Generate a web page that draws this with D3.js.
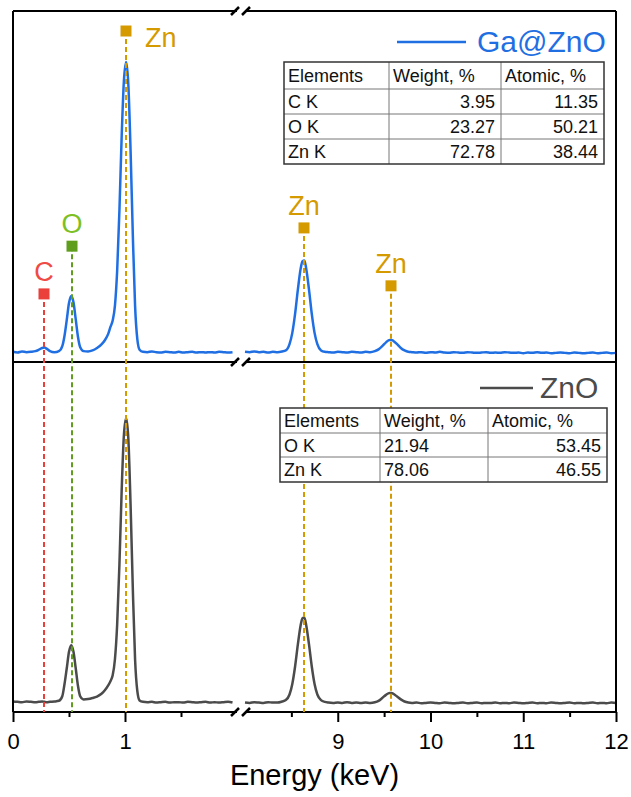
<!DOCTYPE html>
<html>
<head>
<meta charset="utf-8">
<script src="https://cdn.jsdelivr.net/npm/d3@7"></script>
<style>
  html, body { margin: 0; padding: 0; background: #fff; }
  svg { display: block; font-family: "Liberation Sans", Arial, sans-serif; }
</style>
</head>
<body>
<svg id="chart" width="631" height="797"></svg>
<script>
// ---- EDS spectra (energy in keV, intensity in arbitrary counts) ----
const energyLow = [0.00,0.04,0.08,0.12,0.16,0.20,
  0.23,0.26,0.28,0.30,0.33,0.37,0.41,0.44,
  0.46,0.48,0.50,0.52,0.54,0.56,0.58,0.60,
  0.63,0.67,0.71,0.75,0.79,
  0.82,0.85,0.87,0.89,0.91,0.93,0.95,0.97,0.99,
  1.01,1.03,1.05,1.07,1.09,1.11,1.13,
  1.16,
  1.20,1.24,1.28,1.32,1.36,1.40,1.44,1.48,1.52,1.56,1.60,1.64,1.68,1.72,1.76,1.80,1.84,1.88,1.92,1.96];

const gaZnoLow = [29,27,30,28,29,31,
  35,40,41,38,31,28,31,45,
  75,120,168,188,170,122,72,42,
  31,30,33,40,50,
  62,80,100,118,160,260,430,640,800,
  855,790,600,360,160,65,35,
  29,
  28,30,28,27,29,28,27,29,27,28,29,27,28,27,28,27,29,28,27,28];

const znoLow = [30,29,28,30,29,28,
  29,30,29,28,29,30,32,45,
  80,125,172,191,172,125,75,45,
  36,37,40,44,52,
  62,76,88,105,150,250,420,630,790,
  840,780,590,350,150,60,33,
  29,
  28,29,27,28,29,27,28,28,27,29,28,27,28,29,27,28,27,28,29,27];

const energyHigh = [8.00,8.05,8.10,8.15,8.20,8.25,8.30,8.35,8.40,
  8.44,8.48,8.51,8.54,8.57,8.60,8.62,8.64,8.66,8.69,8.72,8.75,8.78,8.82,8.86,8.90,
  8.95,9.00,9.05,9.10,9.15,9.20,9.25,9.30,9.35,9.40,
  9.44,9.48,9.52,9.56,9.58,9.60,9.64,9.68,9.72,9.76,
  9.80,9.85,9.90,9.95,10.00,10.05,10.10,10.15,10.20,10.25,
  10.30,10.35,10.40,10.45,10.50,10.55,10.60,10.65,10.70,10.75,
  10.80,10.85,10.90,10.95,11.00,11.05,11.10,11.15,11.20,11.25,
  11.30,11.35,11.40,11.45,11.50,11.55,11.60,11.65,11.70,11.75,
  11.80,11.85,11.90,11.95,12.00];

const gaZnoHigh = [29,28,30,28,29,27,29,28,30,
  33,51,83,137,206,266,287,289,266,206,137,83,51,33,29,28,
  27,29,28,27,29,28,27,29,28,31,
  36,45,56,63,63,60,51,40,33,29,
  28,27,28,26,28,27,29,27,26,28,
  27,26,28,27,26,27,28,26,27,26,
  28,27,26,27,25,27,26,28,26,27,
  25,26,27,26,25,27,26,25,26,27,
  25,26,27,25,26];

const znoHigh = [27,26,28,27,26,28,27,27,30,
  34,50,80,130,193,248,268,270,248,193,130,80,50,34,29,27,
  26,27,26,28,26,27,26,27,26,28,
  32,40,49,54,54,52,44,36,30,27,
  26,27,25,26,27,26,25,27,26,25,
  26,27,25,26,27,25,26,26,27,25,
  26,25,27,26,25,26,27,25,26,25,
  27,26,25,26,27,25,26,25,26,27,
  25,26,25,27,26];

// ---- characteristic X-ray lines ----
const lineNames    = ["C", "O", "Zn", "Zn", "Zn"];
const lineEnergies = [0.277, 0.525, 1.01, 8.635, 9.572];
const markerLevels = [194, 330, 943, 382, 217];   // marker height, top-panel counts

// ---- axis ticks ----
const majorTicks = [0, 1, 9, 10, 11, 12];
const minorTicks = [0.5, 1.5, 8.5, 9.5, 10.5, 11.5];

// ---- composition tables ----
const gaZnoTableHeader = ["Elements", "Weight, %", "Atomic, %"];
const gaZnoElements = ["C K", "O K", "Zn K"];
const gaZnoWeight   = ["3.95", "23.27", "72.78"];
const gaZnoAtomic   = ["11.35", "50.21", "38.44"];

const znoTableHeader = ["Elements", "Weight, %", "Atomic, %"];
const znoElements = ["O K", "Zn K"];
const znoWeight   = ["21.94", "78.06"];
const znoAtomic   = ["53.45", "46.55"];

const seriesNames = ["Ga@ZnO", "ZnO"];

// ---- styling ----
const BLUE = "#1f6fe3", GRAY = "#4b4b4b";
const lineStyle = {
  C:  { mark: "#ea3f3a", text: "#f04a45" },
  O:  { mark: "#5f9e1c", text: "#7cc022" },
  Zn: { mark: "#d49a00", text: "#d49a00" }
};

const svg = d3.select("#chart");

// Broken energy axis: 0–2 keV, then 8–12 keV
const x = d3.scaleLinear().domain([0, 2, 8, 12]).range([13, 237, 245, 616]);
const yTop = d3.scaleLinear().domain([0, 1000]).range([362, 11]);
const yBot = d3.scaleLinear().domain([0, 1000]).range([712, 362]);

const toPts = (es, vs) => es.map((e, i) => ({ e, v: vs[i] }));

function drawSpectrum(y, es, vs, color) {
  const line = d3.line().x(d => x(d.e)).y(d => y(d.v)).curve(d3.curveMonotoneX);
  svg.append("path")
    .datum(toPts(es, vs))
    .attr("d", line)
    .attr("fill", "none")
    .attr("stroke", color)
    .attr("stroke-width", 2.5)
    .attr("stroke-linejoin", "round");
}

drawSpectrum(yTop, energyLow, gaZnoLow, BLUE);
drawSpectrum(yTop, energyHigh, gaZnoHigh, BLUE);
drawSpectrum(yBot, energyLow, znoLow, GRAY);
drawSpectrum(yBot, energyHigh, znoHigh, GRAY);

// ---- frame with axis breaks ----
const frame = svg.append("g").attr("stroke", "#000").attr("stroke-width", 2).attr("fill", "none");
[yTop(0) - 351, yTop(0), yBot(0)].forEach(yy => {
  frame.append("line").attr("x1", x(0)).attr("x2", x(2)).attr("y1", yy).attr("y2", yy);
  frame.append("line").attr("x1", x(8)).attr("x2", x(12)).attr("y1", yy).attr("y2", yy);
  [x(2) - 2, x(8) + 1].forEach(cx => {
    frame.append("line")
      .attr("x1", cx - 4).attr("y1", yy + 4)
      .attr("x2", cx + 4).attr("y2", yy - 4)
      .attr("stroke-width", 2.5);
  });
});
frame.append("line").attr("x1", x(0)).attr("x2", x(0)).attr("y1", yTop(1000)).attr("y2", yBot(0));
frame.append("line").attr("x1", x(12)).attr("x2", x(12)).attr("y1", yTop(1000)).attr("y2", yBot(0));

// ---- x axis ticks ----
const axMajor = svg.append("g").attr("transform", `translate(0,${yBot(0)})`)
  .call(d3.axisBottom(x).tickValues(majorTicks).tickSize(10).tickPadding(11).tickFormat(d3.format("d")));
axMajor.select(".domain").remove();
axMajor.selectAll(".tick line").attr("stroke", "#000").attr("stroke-width", 2);
axMajor.selectAll(".tick text")
  .attr("font-size", 22).attr("fill", "#000")
  .attr("font-family", "'Liberation Sans', Arial, sans-serif");

const axMinor = svg.append("g").attr("transform", `translate(0,${yBot(0)})`)
  .call(d3.axisBottom(x).tickValues(minorTicks).tickSize(5).tickFormat(""));
axMinor.select(".domain").remove();
axMinor.selectAll(".tick line").attr("stroke", "#000").attr("stroke-width", 2);

svg.append("text")
  .attr("x", (x(0) + x(12)) / 2).attr("y", 785)
  .attr("text-anchor", "middle")
  .attr("font-size", 29).attr("fill", "#000")
  .text("Energy (keV)");

// ---- element line markers (dashed guides through both panels) ----
lineNames.forEach((name, i) => {
  const st = lineStyle[name];
  const cx = Math.round(x(lineEnergies[i]));
  const cy = yTop(markerLevels[i]);
  svg.append("line")
    .attr("x1", cx).attr("x2", cx).attr("y1", cy).attr("y2", yBot(0))
    .attr("stroke", st.mark).attr("stroke-width", 2)
    .attr("stroke-dasharray", "5,3");
  svg.append("rect")
    .attr("x", cx - 5.5).attr("y", cy - 5.5).attr("width", 11).attr("height", 11)
    .attr("fill", st.mark);
  const beside = (i === 2);
  svg.append("text")
    .attr("x", beside ? cx + 19 : cx)
    .attr("y", beside ? cy + 16 : cy - 13)
    .attr("text-anchor", beside ? "start" : "middle")
    .attr("font-size", 27).attr("fill", st.text)
    .text(name);
});

// ---- legends ----
function legend(x1, x2, yLine, textX, textY, color, label) {
  svg.append("line").attr("x1", x1).attr("x2", x2).attr("y1", yLine).attr("y2", yLine)
    .attr("stroke", color).attr("stroke-width", 2.5);
  svg.append("text").attr("x", textX).attr("y", textY)
    .attr("font-size", 30).attr("fill", color).text(label);
}
legend(397, 466, 42, 477, 52, BLUE, seriesNames[0]);
legend(480, 533, 388, 540, 398, GRAY, seriesNames[1]);

// ---- composition tables ----
function table(cols, rows, header, elements, weight, atomic, weightAlign) {
  const g = svg.append("g");
  g.append("rect")
    .attr("x", cols[0]).attr("y", rows[0])
    .attr("width", cols[3] - cols[0]).attr("height", rows[rows.length - 1] - rows[0])
    .attr("fill", "#fff");
  rows.slice(1, -1).forEach(r => g.append("line")
    .attr("x1", cols[0]).attr("x2", cols[3]).attr("y1", r).attr("y2", r)
    .attr("stroke", "#777").attr("stroke-width", 1));
  cols.slice(1, -1).forEach(c => g.append("line")
    .attr("x1", c).attr("x2", c).attr("y1", rows[0]).attr("y2", rows[rows.length - 1])
    .attr("stroke", "#777").attr("stroke-width", 1));
  g.append("rect")
    .attr("x", cols[0]).attr("y", rows[0])
    .attr("width", cols[3] - cols[0]).attr("height", rows[rows.length - 1] - rows[0])
    .attr("fill", "none").attr("stroke", "#333").attr("stroke-width", 1.5);

  const cellText = (txt, col, row, align) => {
    const yMid = (rows[row] + rows[row + 1]) / 2 + 6.5;
    g.append("text")
      .attr("x", align === "end" ? cols[col + 1] - 6 : cols[col] + 4)
      .attr("y", yMid)
      .attr("text-anchor", align)
      .attr("font-size", 18).attr("fill", "#111")
      .text(txt);
  };
  header.forEach((h, c) => cellText(h, c, 0, "start"));
  elements.forEach((e, r) => {
    cellText(e, 0, r + 1, "start");
    cellText(weight[r], 1, r + 1, weightAlign);
    cellText(atomic[r], 2, r + 1, "end");
  });
}

table([284, 389, 501, 604], [62, 89, 114, 139, 164],
  gaZnoTableHeader, gaZnoElements, gaZnoWeight, gaZnoAtomic, "end");
table([280, 380, 488, 607], [408, 433, 457, 482],
  znoTableHeader, znoElements, znoWeight, znoAtomic, "start");
</script>
</body>
</html>
